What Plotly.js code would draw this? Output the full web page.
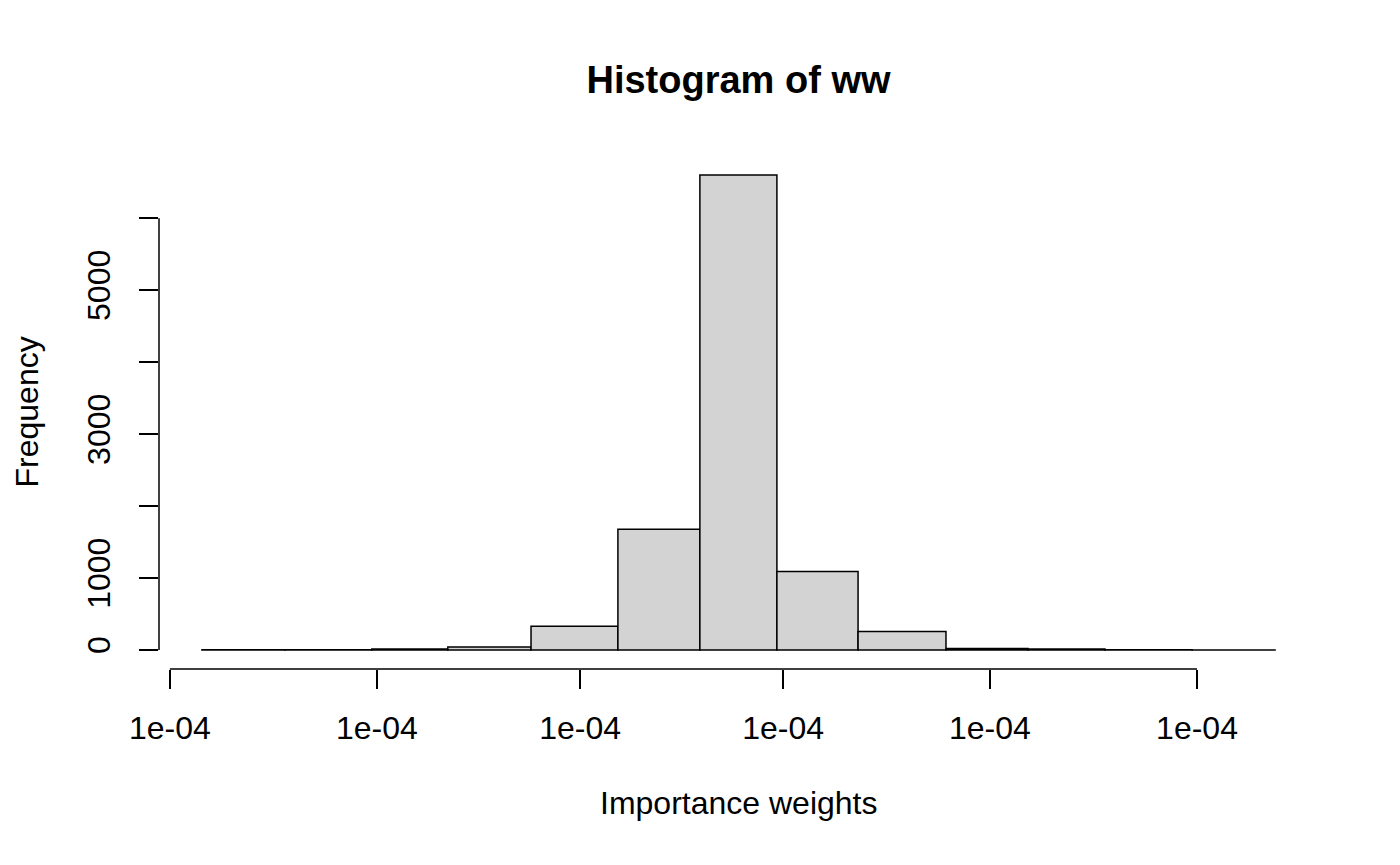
<!DOCTYPE html>
<html>
<head>
<meta charset="utf-8">
<script src="https://cdn.plot.ly/plotly-3.0.1.min.js"></script>
<style>
  html, body { margin: 0; padding: 0; background: #FFFFFF; }
  #hist { width: 1400px; height: 865px; }
</style>
</head>
<body>
<div id="hist"></div>
<script>
// Histogram of ww — every weight is ~1e-04, so the breaks are only a few
// ULPs apart. Positions are kept in "tick units" (0 = first labelled tick).
const BREAKS = [0.156, 0.560, 0.983, 1.353, 1.758, 2.181, 2.580, 2.955,
                3.350, 3.778, 4.177, 4.552, 4.976, 5.380];
const COUNTS = [2, 3, 15, 40, 331, 1678, 6600, 1090, 257, 20, 15, 3, 1];

const X_TICKS = [0, 1.008, 1.997, 2.985, 3.992, 5.0];
const X_TICK_TEXT = ["1e-04", "1e-04", "1e-04", "1e-04", "1e-04", "1e-04"];

const Y_TICKS = [0, 1000, 2000, 3000, 4000, 5000, 6000];
const Y_TICK_TEXT = ["0", "1000", "", "3000", "", "5000", ""];

const FONT = "Liberation Sans, Arial, Helvetica, sans-serif";
const BAR_FILL = "#D3D3D3";
const INK = "#000000";

// bar centres / widths from the break points
const mids = [];
const widths = [];
for (let i = 0; i < COUNTS.length; i++) {
  mids.push((BREAKS[i] + BREAKS[i + 1]) / 2);
  widths.push(BREAKS[i + 1] - BREAKS[i]);
}

// R pads both axes by 4% of the data range
const xLo = BREAKS[0], xHi = BREAKS[BREAKS.length - 1];
const xPad = 0.04 * (xHi - xLo);
const yMax = Math.max(...COUNTS);
const yPad = 0.04 * yMax;

const layout = {
  width: 1400,
  height: 865,
  margin: { l: 159, r: 82, t: 156, b: 196 },
  paper_bgcolor: "#FFFFFF",
  plot_bgcolor: "#FFFFFF",
  font: { family: FONT, size: 32, color: INK },
  showlegend: false,
  bargap: 0,
  title: {
    text: "<b>Histogram of ww</b>",
    font: { family: FONT, size: 38, color: INK },
    x: 0.5,
    xref: "paper",
    xanchor: "center",
    y: 1 - 80 / 865,
    yanchor: "middle",
  },
  xaxis: {
    range: [xLo - xPad, xHi + xPad],
    showgrid: false,
    zeroline: false,
    showline: false,
    tickmode: "array",
    tickvals: X_TICKS,
    ticktext: X_TICK_TEXT,
    ticks: "outside",
    ticklen: 19,
    tickwidth: 1.5,
    tickcolor: INK,
    ticklabelstandoff: 12,
    tickfont: { family: FONT, size: 32, color: INK },
  },
  yaxis: {
    range: [-yPad, yMax + yPad],
    showgrid: false,
    zeroline: false,
    showline: false,
    tickmode: "array",
    tickvals: Y_TICKS,
    ticktext: Y_TICK_TEXT,
    ticks: "outside",
    ticklen: 19,
    tickwidth: 1.5,
    tickcolor: INK,
    tickangle: -90,
    ticklabelstandoff: 16,
    tickfont: { family: FONT, size: 32, color: INK },
  },
  shapes: [
    // x axis line runs first tick → last tick, at the bottom of the plot region
    {
      type: "line", xref: "x", yref: "paper",
      x0: X_TICKS[0], x1: X_TICKS[X_TICKS.length - 1], y0: 0, y1: 0,
      line: { color: INK, width: 1.5 },
    },
    // y axis line runs first tick → last tick, at the left of the plot region
    {
      type: "line", xref: "paper", yref: "y",
      x0: 0, x1: 0, y0: Y_TICKS[0], y1: Y_TICKS[Y_TICKS.length - 1],
      line: { color: INK, width: 1.5 },
    },
  ],
  annotations: [
    {
      text: "Importance weights",
      xref: "paper", yref: "paper",
      x: 0.5, y: (669.5 - 803) / 513,
      xanchor: "center", yanchor: "middle",
      showarrow: false,
      font: { family: FONT, size: 32, color: INK },
    },
    {
      text: "Frequency",
      xref: "paper", yref: "paper",
      x: (26 - 159) / 1159, y: 0.5,
      xanchor: "center", yanchor: "middle",
      textangle: -90,
      showarrow: false,
      font: { family: FONT, size: 32, color: INK },
    },
  ],
};

Plotly.newPlot(
  "hist",
  [
    {
      type: "bar",
      x: mids,
      y: COUNTS,
      width: widths,
      marker: { color: BAR_FILL, line: { color: INK, width: 1.5 } },
      hoverinfo: "y",
    },
  ],
  layout,
  { displayModeBar: false, staticPlot: true }
);
</script>
</body>
</html>
